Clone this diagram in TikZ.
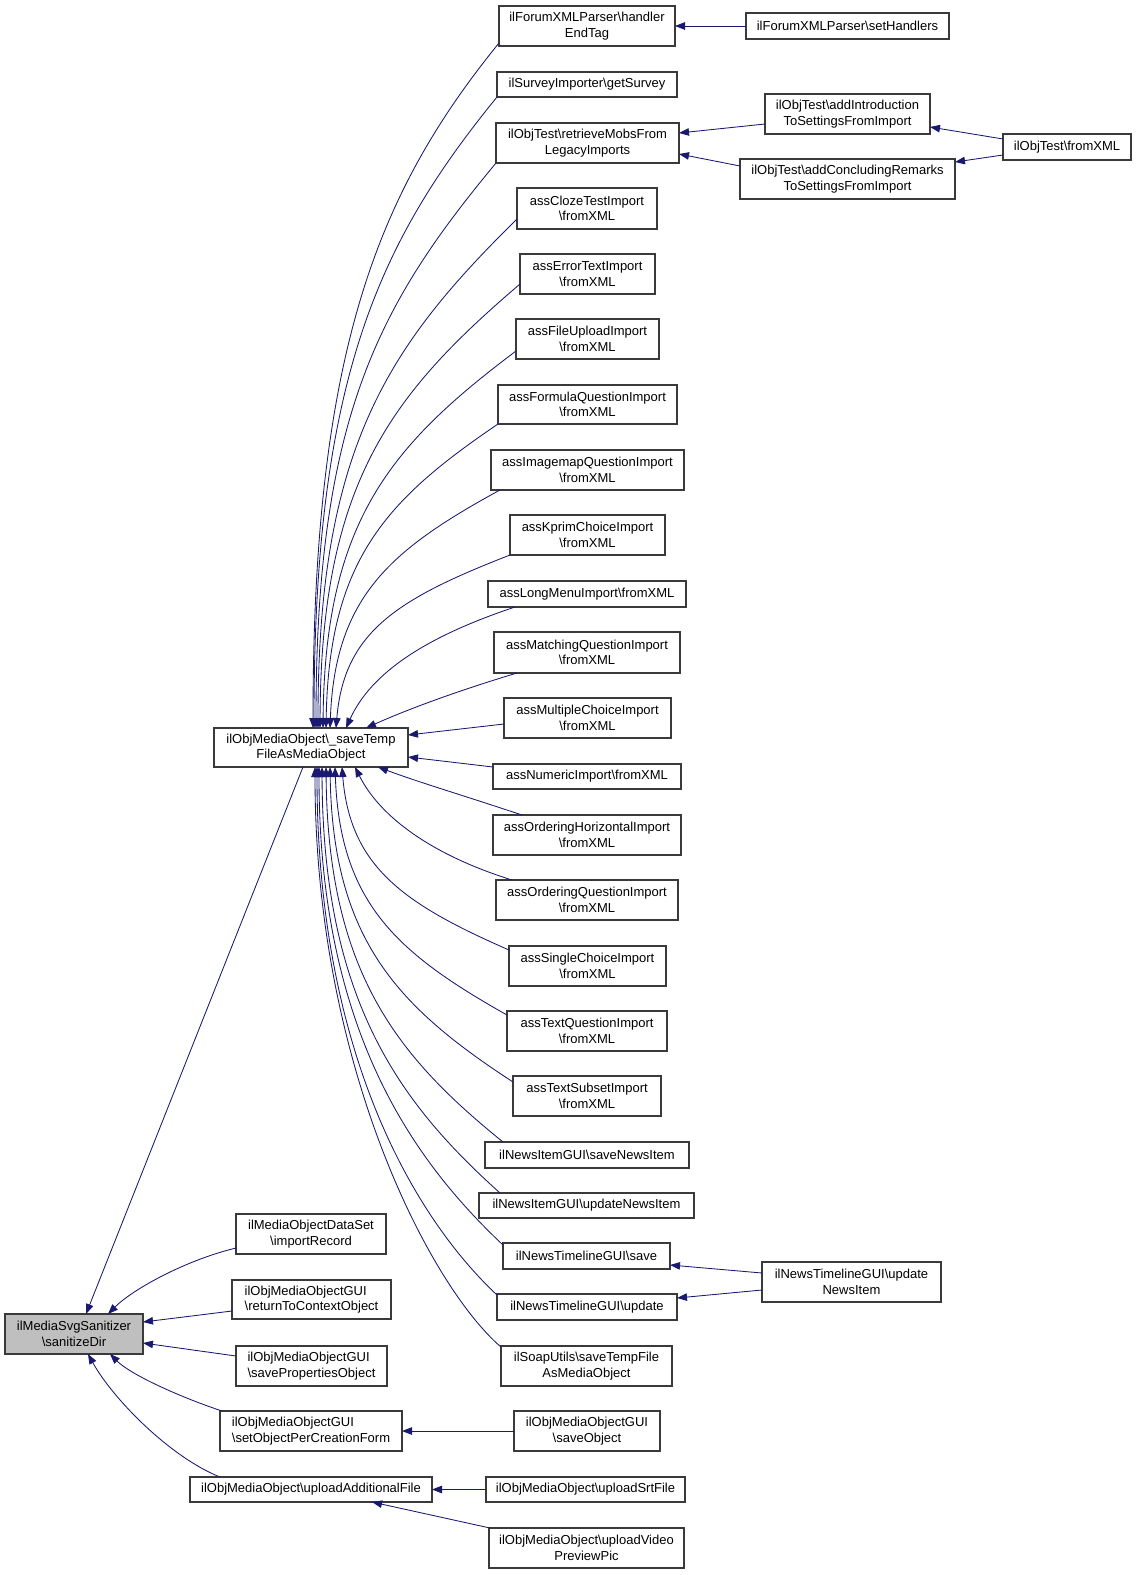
\documentclass[tikz,border=0pt]{standalone}
\usepackage{fontspec}
\setmainfont{Liberation Sans}
\usetikzlibrary{arrows.meta,calc}
\definecolor{mblue}{HTML}{191970}
\definecolor{bord}{HTML}{3A3A3A}
\definecolor{rootfill}{HTML}{BFBFBF}
\tikzset{
  box/.style={draw=bord, line width=1.1pt, fill=white, inner sep=0pt, outer sep=0pt,
    align=center, font=\fontsize{13}{15.5}\selectfont},
  edge/.style={draw=mblue, line width=0.85pt, -{Triangle[length=10pt,width=7.5pt]}}
}
\newcommand\bx[7][]{\node[box,minimum width={(#5-#3)*1pt},minimum height={(#6-#4)*1pt},#1] (#2) at ({(#3+#5)/2},{(#4+#6)/2}) {#7};}
\newcommand\cv[4]{\draw[edge] #1 .. controls +#2 and +#3 .. #4;}
\begin{document}
\begin{tikzpicture}[x=1pt,y=-1pt]
\useasboundingbox (0,0) rectangle (1144,1575);
\fill[white] (0,0) rectangle (1144,1575);
% nodes
\bx[fill=rootfill]{root}{5}{1314}{143}{1354}{ilMediaSvgSanitizer\\\textbackslash{}sanitizeDir}
\bx{saveTemp}{214}{728}{408}{767}{ilObjMediaObject\textbackslash\_saveTemp\\FileAsMediaObject}
\bx{importRecord}{236}{1214}{386}{1254}{ilMediaObjectDataSet\\\textbackslash{}importRecord}
\bx[align=left]{retCtx}{232}{1280}{391}{1319}{ilObjMediaObjectGUI\\\textbackslash{}returnToContextObject}
\bx[align=left]{saveProps}{236}{1346}{387}{1386}{ilObjMediaObjectGUI\\\textbackslash{}savePropertiesObject}
\bx[align=left]{setObj}{220}{1411}{402}{1451}{ilObjMediaObjectGUI\\\textbackslash{}setObjectPerCreationForm}
\bx{uploadAdd}{190}{1477}{432}{1502}{ilObjMediaObject\textbackslash{}uploadAdditionalFile}
\bx{handler}{499}{6}{675}{46}{ilForumXMLParser\textbackslash{}handler\\EndTag}
\bx{setHandlers}{746}{13}{949}{39}{ilForumXMLParser\textbackslash{}setHandlers}
\bx{getSurvey}{497}{72}{677}{97}{ilSurveyImporter\textbackslash{}getSurvey}
\bx{retrieve}{496}{123}{679}{163}{ilObjTest\textbackslash{}retrieveMobsFrom\\LegacyImports}
\bx{addIntro}{765}{94}{930}{134}{ilObjTest\textbackslash{}addIntroduction\\ToSettingsFromImport}
\bx{addConcl}{740}{159}{955}{199}{ilObjTest\textbackslash{}addConcludingRemarks\\ToSettingsFromImport}
\bx{fromXML}{1003}{134}{1131}{160}{ilObjTest\textbackslash{}fromXML}
\bx{cloze}{517}{188}{657}{229}{assClozeTestImport\\\textbackslash{}fromXML}
\bx{errtext}{520}{254}{655}{294}{assErrorTextImport\\\textbackslash{}fromXML}
\bx{fileup}{516}{319}{659}{359}{assFileUploadImport\\\textbackslash{}fromXML}
\bx{formula}{498}{385}{677}{424}{assFormulaQuestionImport\\\textbackslash{}fromXML}
\bx{imagemap}{491}{450}{684}{490}{assImagemapQuestionImport\\\textbackslash{}fromXML}
\bx{kprim}{510}{515}{665}{555}{assKprimChoiceImport\\\textbackslash{}fromXML}
\bx{longmenu}{488}{581}{686}{607}{assLongMenuImport\textbackslash{}fromXML}
\bx{matching}{494}{632}{680}{673}{assMatchingQuestionImport\\\textbackslash{}fromXML}
\bx{multi}{504}{698}{671}{738}{assMultipleChoiceImport\\\textbackslash{}fromXML}
\bx{numeric}{493}{764}{681}{789}{assNumericImport\textbackslash{}fromXML}
\bx{ordhor}{493}{815}{681}{855}{assOrderingHorizontalImport\\\textbackslash{}fromXML}
\bx{ordq}{496}{880}{678}{920}{assOrderingQuestionImport\\\textbackslash{}fromXML}
\bx{single}{509}{946}{666}{986}{assSingleChoiceImport\\\textbackslash{}fromXML}
\bx{textq}{507}{1011}{667}{1051}{assTextQuestionImport\\\textbackslash{}fromXML}
\bx{textsub}{513}{1076}{661}{1116}{assTextSubsetImport\\\textbackslash{}fromXML}
\bx{saveNI}{485}{1142}{689}{1168}{ilNewsItemGUI\textbackslash{}saveNewsItem}
\bx{updNI}{479}{1193}{694}{1218}{ilNewsItemGUI\textbackslash{}updateNewsItem}
\bx{ntsave}{503}{1243}{670}{1269}{ilNewsTimelineGUI\textbackslash{}save}
\bx{ntupd}{497}{1294}{677}{1320}{ilNewsTimelineGUI\textbackslash{}update}
\bx{ntupdNI}{762}{1262}{941}{1302}{ilNewsTimelineGUI\textbackslash{}update\\NewsItem}
\bx{soap}{501}{1346}{672}{1386}{ilSoapUtils\textbackslash{}saveTempFile\\AsMediaObject}
\bx{saveObj}{514}{1411}{660}{1451}{ilObjMediaObjectGUI\\\textbackslash{}saveObject}
\bx{srt}{486}{1477}{685}{1502}{ilObjMediaObject\textbackslash{}uploadSrtFile}
\bx{video}{489}{1528}{684}{1568}{ilObjMediaObject\textbackslash{}uploadVideo\\PreviewPic}
% edges into saveTemp (from above)
\cv{($(handler.south west)+(0,-3)$)}{(-121,149)}{(0,-377)}{($(saveTemp.north west)+(99,0)$)}
\cv{(getSurvey.south west)}{(-119,146)}{(0,-348)}{($(saveTemp.north west)+(100,0)$)}
\cv{(retrieve.south west)}{(-117,141)}{(0,-311)}{($(saveTemp.north west)+(102,0)$)}
\cv{($(cloze.south west)+(0,-10)$)}{(-129,127)}{(0,-280)}{($(saveTemp.north west)+(104,0)$)}
\cv{($(errtext.south west)+(0,-10)$)}{(-130,111)}{(1,-244)}{($(saveTemp.north west)+(106,0)$)}
\cv{($(fileup.south west)+(0,-8)$)}{(-125,94)}{(2,-207)}{($(saveTemp.north west)+(109,0)$)}
\cv{(formula.south west)}{(-112,76)}{(3,-168)}{($(saveTemp.north west)+(112,0)$)}
\cv{($(imagemap.south west)+(9,0)$)}{(-110,60)}{(5,-131)}{($(saveTemp.north west)+(116,0)$)}
\cv{(kprim.south west)}{(-113,44)}{(8,-96)}{($(saveTemp.north west)+(122,0)$)}
\cv{($(longmenu.south west)+(27,0)$)}{(-90,30)}{(25,-55)}{($(saveTemp.north west)+(132,0)$)}
\cv{($(matching.south west)+(23,0)$)}{(-60,18)}{(40,-18)}{($(saveTemp.north west)+(152,0)$)}
\draw[edge] ($(multi.south west)+(0,-14)$) -- ($(saveTemp.north east)+(0,7)$);
\draw[edge] ($(numeric.north west)+(0,3)$) -- ($(saveTemp.south east)+(0,-10)$);
% edges into saveTemp (from below)
\cv{($(ordhor.north west)+(29,0)$)}{(-60,-20)}{(40,15)}{($(saveTemp.south west)+(164,0)$)}
\cv{($(ordq.north west)+(16,0)$)}{(-80,-25)}{(25,50)}{($(saveTemp.south west)+(141,0)$)}
\cv{($(single.north west)+(0,4)$)}{(-105,-46)}{(8,100)}{($(saveTemp.south west)+(128,0)$)}
\cv{($(textq.north west)+(0,4)$)}{(-110,-62)}{(5,136)}{($(saveTemp.south west)+(121,0)$)}
\cv{($(textsub.north west)+(0,6)$)}{(-115,-75)}{(3,173)}{($(saveTemp.south west)+(116,0)$)}
\cv{($(saveNI.north west)+(18,0)$)}{(-105,-85)}{(2,206)}{($(saveTemp.south west)+(112,0)$)}
\cv{($(updNI.north west)+(21,0)$)}{(-100,-90)}{(1,234)}{($(saveTemp.south west)+(108,0)$)}
\cv{($(ntsave.north west)+(0,2)$)}{(-90,-85)}{(0,263)}{($(saveTemp.south west)+(105,0)$)}
\cv{($(ntupd.north west)+(0,1)$)}{(-80,-75)}{(0,290)}{($(saveTemp.south west)+(103,0)$)}
\cv{($(soap.north west)+(0,1)$)}{(-70,-60)}{(0,300)}{($(saveTemp.south west)+(101,0)$)}
% edges into root
\draw[edge] ($(saveTemp.south west)+(89,0)$) -- ($(root.north west)+(81,0)$);
\cv{($(importRecord.south west)+(0,-6)$)}{(-50,12)}{(25,-25)}{($(root.north west)+(103,0)$)}
\draw[edge] ($(retCtx.south west)+(0,-8)$) -- ($(root.north east)+(0,8)$);
\draw[edge] ($(saveProps.north west)+(0,10)$) -- ($(root.south east)+(0,-11)$);
\cv{($(setObj.north west)+(2,0)$)}{(-45,-15)}{(20,20)}{($(root.south west)+(105,0)$)}
\cv{($(uploadAdd.north west)+(30,0)$)}{(-50,-20)}{(25,45)}{($(root.south west)+(83,0)$)}
% other edges
\draw[edge] (setHandlers.west) -- (handler.east);
\draw[edge] ($(addIntro.west)+(0,10)$) -- ($(retrieve.east)+(0,-10)$);
\draw[edge] ($(addConcl.north west)+(0,7)$) -- ($(retrieve.east)+(0,11)$);
\draw[edge] ($(fromXML.west)+(0,-8)$) -- ($(addIntro.east)+(0,13)$);
\draw[edge] ($(fromXML.west)+(0,8)$) -- ($(addConcl.east)+(0,-17)$);
\draw[edge] ($(ntupdNI.west)+(0,-9)$) -- ($(ntsave.east)+(0,9)$);
\draw[edge] ($(ntupdNI.west)+(0,8)$) -- ($(ntupd.east)+(0,-9)$);
\draw[edge] (saveObj.west) -- (setObj.east);
\draw[edge] (srt.west) -- (uploadAdd.east);
\draw[edge] ($(video.north west)+(1,0)$) -- ($(uploadAdd.south west)+(182,0)$);
\end{tikzpicture}
\end{document}
